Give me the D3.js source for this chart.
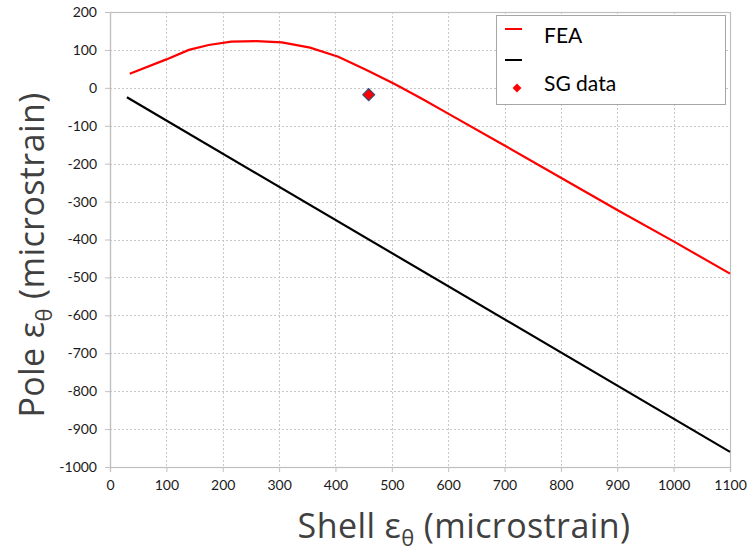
<!DOCTYPE html>
<html>
<head>
<meta charset="utf-8">
<script src="https://cdn.jsdelivr.net/npm/d3@7"></script>
<style>
  body { margin: 0; background: #fff; }
  svg { display: block; font-family: Lato, "Open Sans", sans-serif; }
</style>
</head>
<body>
<svg id="chart" width="749" height="555"></svg>
<script>
// FEA prediction (red)
const feaX = [35, 100, 140, 175, 215, 260, 305, 355, 405, 455, 505, 555, 600, 700, 800, 900, 1000, 1100];
const feaY = [37, 75, 100, 113, 122, 123, 120, 106, 82, 47, 10, -30, -68, -152, -237, -322, -405, -490];
// Reference line (black)
const refX = [30, 1100];
const refY = [-25, -960];
// Strain gauge measurement
const sgX = [459];
const sgY = [-18];
// Axis ticks
const xTicks = [0, 100, 200, 300, 400, 500, 600, 700, 800, 900, 1000, 1100];
const yTicks = [200, 100, 0, -100, -200, -300, -400, -500, -600, -700, -800, -900, -1000];

const svg = d3.select("#chart");
const m = { left: 110, right: 730, top: 12, bottom: 467 };

const x = d3.scaleLinear().domain([0, 1100]).range([m.left, m.right]);
const y = d3.scaleLinear().domain([-1000, 200]).range([m.bottom, m.top]);
const fmt = d => String(d); // plain hyphen-minus for negatives

// dotted grid
const grid = svg.append("g").attr("stroke", "#c8c8c8").attr("stroke-width", 1).attr("stroke-dasharray", "2,2");
xTicks.slice(1, -1).forEach(t => grid.append("line")
  .attr("x1", Math.round(x(t)) + 0.5).attr("x2", Math.round(x(t)) + 0.5)
  .attr("y1", m.top).attr("y2", m.bottom));
yTicks.slice(1, -1).forEach(t => grid.append("line")
  .attr("x1", m.left).attr("x2", m.right)
  .attr("y1", Math.round(y(t)) + 0.5).attr("y2", Math.round(y(t)) + 0.5));

// plot frame
svg.append("rect")
  .attr("x", m.left + 0.5).attr("y", m.top + 0.5)
  .attr("width", m.right - m.left).attr("height", m.bottom - m.top)
  .attr("fill", "none").attr("stroke", "#bfbfbf").attr("stroke-width", 1.2);

// axes
const xAxis = svg.append("g").attr("transform", `translate(0,${m.bottom})`)
  .call(d3.axisBottom(x).tickValues(xTicks).tickSize(5).tickPadding(8).tickFormat(fmt));
const yAxis = svg.append("g").attr("transform", `translate(${m.left},0)`)
  .call(d3.axisLeft(y).tickValues(yTicks).tickSize(5).tickPadding(8).tickFormat(fmt));
[xAxis, yAxis].forEach(a => {
  a.select(".domain").attr("stroke", "#bfbfbf").attr("stroke-width", 1.2);
  a.selectAll(".tick line").attr("stroke", "#bfbfbf");
  a.selectAll(".tick text").attr("fill", "#1a1a1a").style("font-size", "14px")
    .style("font-family", "Lato, 'Open Sans', sans-serif");
});

const line = d3.line().x(d => x(d[0])).y(d => y(d[1]));

svg.append("path").datum(refX.map((v, i) => [v, refY[i]]))
  .attr("d", line).attr("fill", "none").attr("stroke", "#000").attr("stroke-width", 2.2);
svg.append("path").datum(feaX.map((v, i) => [v, feaY[i]]))
  .attr("d", line).attr("fill", "none").attr("stroke", "#ff0000").attr("stroke-width", 2.2);

const diamond = d3.symbol().type(d3.symbolDiamond2).size(90);
svg.selectAll(".sg").data(sgX.map((v, i) => [v, sgY[i]])).join("path")
  .attr("d", diamond)
  .attr("transform", d => `translate(${x(d[0])},${y(d[1])})`)
  .attr("fill", "#ff0000").attr("stroke", "#3b4a7a").attr("stroke-width", 1.2);

// legend
const lg = svg.append("g");
lg.append("rect").attr("x", 496.5).attr("y", 15.5).attr("width", 229).attr("height", 89)
  .attr("fill", "#fff").attr("stroke", "#a6a6a6").attr("stroke-width", 1);
lg.append("line").attr("x1", 505).attr("x2", 522).attr("y1", 29).attr("y2", 29)
  .attr("stroke", "#ff0000").attr("stroke-width", 2);
lg.append("line").attr("x1", 505).attr("x2", 522).attr("y1", 60).attr("y2", 60)
  .attr("stroke", "#000").attr("stroke-width", 2);
lg.append("path").attr("d", d3.symbol().type(d3.symbolDiamond2).size(50))
  .attr("transform", "translate(517,88)").attr("fill", "#ff0000");
lg.append("text").attr("x", 544).attr("y", 43).text("FEA")
  .style("font-size", "21px").attr("fill", "#000");
lg.append("text").attr("x", 544).attr("y", 91).text("SG data")
  .style("font-size", "21px").attr("fill", "#000");

// axis titles
function title(sel, label) {
  sel.attr("text-anchor", "middle").attr("fill", "#404040")
    .style("font-family", "'Open Sans', sans-serif").style("font-size", "34px")
    .style("letter-spacing", "0.4px");
  sel.append("tspan").text(label + " ε");
  sel.append("tspan").text("θ").style("font-size", "22px").attr("dy", 8);
  sel.append("tspan").text(" (microstrain)").attr("dy", -8);
}
title(svg.append("text").attr("x", 464).attr("y", 538), "Shell");
title(svg.append("text").attr("transform", "translate(44,255) rotate(-90)"), "Pole");
</script>
</body>
</html>
